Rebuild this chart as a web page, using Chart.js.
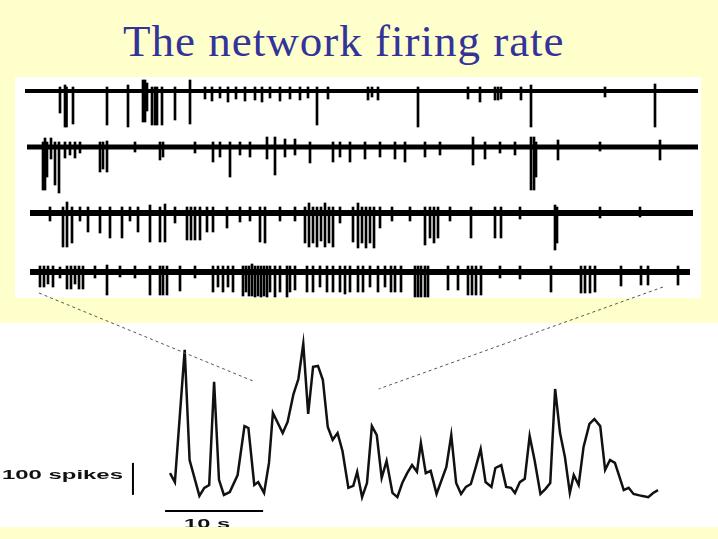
<!DOCTYPE html>
<html>
<head>
<meta charset="utf-8">
<title>The network firing rate</title>
<script src="https://cdn.jsdelivr.net/npm/chart.js@4.4.0/dist/chart.umd.min.js"></script>
<style>
  html, body { margin: 0; padding: 0; }
  body { width: 718px; height: 539px; background: #ffffcc; position: relative; overflow: hidden; }
  #title { position: absolute; left: 123px; top: 19px; font-family: "Liberation Serif", serif; font-size: 45px; line-height: 45px; letter-spacing: 1px; color: #333399; white-space: nowrap; }
  .panel { position: absolute; background: #fff; }
  #tracePanel { left: 15px; top: 77px; width: 686px; height: 221px; }
  #ratePanel { left: 0; top: 323px; width: 718px; height: 204px; }
  #bottomStrip { position: absolute; left: 0; top: 527px; width: 718px; height: 12px; background: #ffffcc; z-index: 3; }
  #chart { position: absolute; left: 0; top: 0; z-index: 2; }
</style>
</head>
<body>
<div id="title">The network firing rate</div>
<div class="panel" id="tracePanel"></div>
<div class="panel" id="ratePanel"></div>
<canvas id="chart" width="718" height="539"></canvas>
<div id="bottomStrip"></div>
<script>
// population firing rate (spikes per bin) against time (s)
const rateTime = [0.0, 0.5, 1.5, 2.0, 3.0, 3.5, 4.0, 4.5, 5.0, 5.5, 6.1, 6.9, 7.6, 8.0, 8.6, 9.0, 9.6, 10.1, 10.5, 11.5,
  12.0, 12.6, 13.1, 13.6, 14.1, 14.6, 15.1, 15.6, 16.1, 16.6, 17.1, 17.6, 18.2, 18.7, 19.1, 19.6, 20.1, 20.6, 21.1, 21.6,
  22.1, 22.7, 23.2, 23.7, 24.2, 24.7, 25.2, 25.6, 26.1, 26.6, 27.2, 28.2, 28.7, 29.2, 29.7, 30.2, 30.7, 31.2, 31.7, 32.2,
  32.8, 33.2, 33.8, 34.3, 34.8, 35.2, 35.7, 36.2, 36.7, 37.2, 37.8, 38.3, 38.8, 39.3, 39.8, 40.3, 40.8, 41.2, 41.7, 42.2,
  42.8, 43.3, 43.9, 44.4, 44.9, 45.4, 45.9, 46.3, 46.8, 47.3, 48.1, 48.8, 49.3, 49.8];
const rateSpikes = [84, 56, 469, 125, 13, 38, 47, 369, 63, 16, 25, 78, 231, 225, 47, 56, 22, 116, 272, 209,
  244, 331, 378, 488, 269, 416, 419, 375, 228, 188, 209, 153, 38, 44, 88, 9, 53, 231, 203, 69,
  122, 22, 9, 53, 84, 109, 88, 178, 84, 91, 19, 103, 203, 53, 19, 41, 50, 103, 159, 56,
  41, 100, 109, 41, 38, 22, 56, 66, 200, 125, 19, 34, 53, 347, 209, 134, 22, 78, 47, 166,
  238, 253, 231, 94, 125, 116, 69, 31, 38, 19, 13, 9, 22, 31];

// raw recordings: 4 electrodes, [start s, end s] and spikes [t s, min uV, max uV]
const traceNames = ["ch1", "ch2", "ch3", "ch4"];
const traceOffsets = [0, -560, -1220, -1810];
const traceSpans = [[0, 13.46], [0.04, 13.46], [0.1, 13.36], [0.1, 13.3]];
const traceNoise = [40, 50, 60, 60];   // usual upward excursion of a spike, uV
const trace1Spikes = [[0.7, -220], [0.8, -360, 60], [0.83, -360], [0.96, -330], [1.64, -340], [2.06, -360, 60],
  [2.36, -310, 110], [2.4, -310, 110], [2.44, -200, 80], [2.54, -340], [2.6, -340], [2.64, -340], [2.74, -340],
  [3.0, -290], [3.3, -330, 110], [3.6, -80], [3.74, -100], [3.9, -70], [4.06, -110], [4.22, -80], [4.4, -100],
  [4.6, -90], [4.74, -110], [4.9, -70], [5.1, -100], [5.3, -80], [5.5, -90], [5.66, -70], [5.84, -340], [6.06, -80],
  [6.86, -90], [6.94, -60], [7.06, -90], [7.86, -360], [8.86, -80], [9.1, -110], [9.4, -90], [9.46, -90],
  [9.52, -80], [9.92, -90], [10.12, -360, 60], [11.6, -60], [12.6, -360, 70]];
const trace2Spikes = [[0.36, -430], [0.4, -430, 90], [0.44, -300], [0.52, -120, 90], [0.6, -380], [0.68, -460],
  [0.8, -110], [0.9, -80], [1.0, -110], [1.1, -60], [1.5, -250], [1.56, -220], [1.64, -250, 60], [2.2, -50],
  [2.7, -130], [2.76, -100], [3.4, -60], [3.76, -150], [3.9, -100], [4.1, -300], [4.3, -80], [4.5, -100],
  [4.84, -120, 100], [5.0, -280, 100], [5.2, -100, 80], [5.4, -80, 80], [5.7, -160], [6.16, -150], [6.3, -100],
  [6.5, -150], [6.8, -120], [7.1, -100], [7.4, -120], [7.6, -150], [8.0, -100], [8.3, -80], [8.96, -180, 100],
  [9.2, -120], [9.5, -60], [9.8, -80], [10.12, -430, 100], [10.18, -430, 100], [10.22, -300], [10.66, -130, 70],
  [11.5, -40], [12.7, -130, 70]];
const trace3Spikes = [[0.5, -80], [0.76, -340], [0.84, -340, 110], [0.94, -300], [1.1, -80], [1.26, -190],
  [1.5, -200], [1.7, -250], [1.94, -250, 60], [2.1, -80], [2.26, -190], [2.5, -290, 80], [2.7, -290],
  [2.8, -290, 90], [3.0, -100], [3.24, -270], [3.32, -270], [3.4, -270], [3.5, -270], [3.64, -190], [3.76, -190],
  [4.04, -150], [4.3, -90], [4.5, -80], [4.7, -290], [4.8, -300], [5.1, -80], [5.4, -80], [5.6, -300],
  [5.68, -340, 100], [5.76, -300], [5.84, -340], [5.92, -280], [6.0, -340, 100], [6.08, -300], [6.16, -340],
  [6.3, -100], [6.56, -290], [6.66, -350, 100], [6.74, -300], [6.82, -350], [6.9, -300], [6.98, -350],
  [7.1, -150], [7.34, -80], [7.7, -80], [8.0, -320], [8.1, -250], [8.18, -300], [8.26, -250], [8.5, -80],
  [8.92, -250], [9.4, -250], [9.52, -250], [9.9, -60], [10.6, -370, 80], [10.64, -300], [11.5, -50], [12.3, -40]];
const trace4Spikes = [[0.3, -150], [0.38, -150], [0.46, -120], [0.56, -150], [0.7, -60, 50], [0.84, -170],
  [0.92, -170], [1.0, -120], [1.08, -170], [1.16, -170], [1.4, -60], [1.64, -230, 70], [1.9, -50], [2.2, -60],
  [2.5, -230], [2.7, -230], [2.76, -230], [2.84, -230], [3.1, -190], [3.4, -60], [3.76, -200], [3.86, -150],
  [3.96, -200], [4.06, -150], [4.16, -200], [4.36, -240], [4.42, -200], [4.48, -240], [4.54, -240, 80],
  [4.6, -250], [4.66, -240], [4.72, -250], [4.78, -240], [4.84, -250], [4.9, -200], [5.0, -250], [5.1, -200],
  [5.24, -250], [5.3, -200], [5.4, -180], [5.64, -200], [5.76, -200], [5.9, -150], [6.04, -200], [6.16, -200],
  [6.3, -200], [6.4, -220], [6.5, -200], [6.66, -200], [6.76, -200], [6.9, -150], [7.06, -200], [7.2, -150],
  [7.32, -200], [7.4, -200], [7.52, -200], [7.8, -250], [7.86, -250], [7.92, -250], [8.0, -250], [8.06, -250],
  [8.46, -180], [8.66, -180], [8.86, -230], [8.94, -230], [9.02, -230], [9.12, -230], [9.5, -60], [9.9, -70],
  [10.52, -200], [11.12, -210], [11.2, -210], [11.3, -210], [11.4, -200], [11.92, -140], [12.32, -130],
  [12.46, -130], [13.06, -130]];
const traceSpikes = [trace1Spikes, trace2Spikes, trace3Spikes, trace4Spikes];

// dashed links: [trace t, trace uV, rate t, rate spikes]
const connectors = [[0.28, -2020, 8.7, 369], [12.76, -1960, 21.3, 347]];
// calibration bars
const spikeBar = { t: -3.78, from: 16, len: 100, label: "100 spikes" };
const timeBar = { from: -0.5, len: 10, y: -34, label: "10 s" };

const W = 718, H = 539;
// where the two plots sit on the page
const rateX0 = 170, ratePxPerS = 9.8, rateY0 = 500, ratePxPerSpike = 0.32;
const traceX0 = 25, tracePxPerS = 50, traceY0 = 91, tracePxPerUV = 0.1;
const baseWidths = [4, 5, 6, 6];

const datasets = [];
datasets.push({
    type: 'line', label: 'rate', xAxisID: 'xr', yAxisID: 'yr',
    data: rateTime.map((t, i) => ({ x: t, y: rateSpikes[i] })),
    borderColor: '#111', borderWidth: 2.5, pointRadius: 0, tension: 0, fill: false
});
traceNames.forEach((name, k) => {
    const off = traceOffsets[k];
    datasets.push({
        type: 'line', label: name + ' base', xAxisID: 'xt', yAxisID: 'yt',
        data: traceSpans[k].map(t => ({ x: t, y: off })),
        borderColor: '#000', borderWidth: baseWidths[k], pointRadius: 0, borderCapStyle: 'butt'
    });
    datasets.push({
        type: 'bar', label: name + ' spikes', xAxisID: 'xt', yAxisID: 'yt',
        data: traceSpikes[k].map(s => ({ x: s[0], y: [off + s[1], off + (s.length > 2 ? s[2] : traceNoise[k])] })),
        backgroundColor: '#000', barThickness: 2, grouped: false, borderWidth: 0
    });
});

const overlay = {
    id: 'overlay',
    afterDatasetsDraw(chart) {
        const { ctx, scales } = chart;
        const xr = scales.xr, yr = scales.yr, xt = scales.xt, yt = scales.yt;
        ctx.save();
        ctx.strokeStyle = '#555';
        ctx.lineWidth = 1;
        ctx.setLineDash([3, 3]);
        connectors.forEach(c => {
            ctx.beginPath();
            ctx.moveTo(xt.getPixelForValue(c[0]), yt.getPixelForValue(c[1]));
            ctx.lineTo(xr.getPixelForValue(c[2]), yr.getPixelForValue(c[3]));
            ctx.stroke();
        });
        ctx.setLineDash([]);
        ctx.strokeStyle = '#000';
        ctx.lineWidth = 2;
        const bx = xr.getPixelForValue(spikeBar.t);
        const by0 = yr.getPixelForValue(spikeBar.from), by1 = yr.getPixelForValue(spikeBar.from + spikeBar.len);
        ctx.beginPath(); ctx.moveTo(bx, by0); ctx.lineTo(bx, by1); ctx.stroke();
        const hy = yr.getPixelForValue(timeBar.y);
        const hx0 = xr.getPixelForValue(timeBar.from), hx1 = xr.getPixelForValue(timeBar.from + timeBar.len);
        ctx.beginPath(); ctx.moveTo(hx0, hy); ctx.lineTo(hx1, hy); ctx.stroke();

        ctx.fillStyle = '#111';
        ctx.font = 'bold 13px "Liberation Sans", Arial, sans-serif';
        ctx.textBaseline = 'middle';
        let w = ctx.measureText(spikeBar.label).width;
        ctx.save();
        ctx.translate(bx - 10, (by0 + by1) / 2 - 3);
        ctx.scale(121 / w, 1);
        ctx.textAlign = 'right';
        ctx.fillText(spikeBar.label, 0, 0);
        ctx.restore();

        w = ctx.measureText(timeBar.label).width;
        ctx.save();
        ctx.translate((hx0 + hx1) / 2 - 7, hy + 14);
        ctx.scale(46 / w, 1);
        ctx.textAlign = 'center';
        ctx.fillText(timeBar.label, 0, 0);
        ctx.restore();
        ctx.restore();
    }
};

new Chart(document.getElementById('chart'), {
    type: 'line',
    data: { datasets: datasets },
    options: {
        responsive: false,
        animation: false,
        events: [],
        layout: { padding: 0 },
        plugins: { legend: { display: false }, tooltip: { enabled: false }, title: { display: false } },
        scales: {
            xr: { type: 'linear', axis: 'x', display: false, offset: false,
                  min: -rateX0 / ratePxPerS, max: (W - rateX0) / ratePxPerS },
            yr: { type: 'linear', axis: 'y', display: false, offset: false,
                  min: -(H - rateY0) / ratePxPerSpike, max: rateY0 / ratePxPerSpike },
            xt: { type: 'linear', axis: 'x', display: false, offset: false,
                  min: -traceX0 / tracePxPerS, max: (W - traceX0) / tracePxPerS },
            yt: { type: 'linear', axis: 'y', display: false, offset: false,
                  min: -(H - traceY0) / tracePxPerUV, max: traceY0 / tracePxPerUV }
        }
    },
    plugins: [overlay]
});
</script>
</body>
</html>
